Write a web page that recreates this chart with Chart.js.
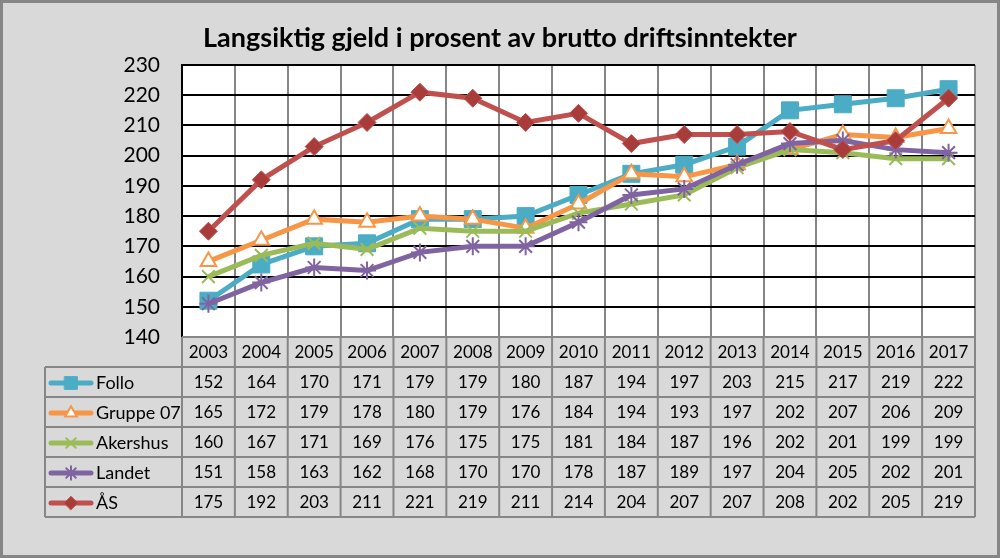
<!DOCTYPE html>
<html>
<head>
<meta charset="utf-8">
<script src="https://cdn.jsdelivr.net/npm/chart.js@4"></script>
<style>
	html, body { margin: 0; padding: 0; background: #d9d9d9; }
	canvas { display: block; }
</style>
</head>
<body>
<canvas id="gjeldChart" width="1000" height="558"></canvas>
<script>
const years = ['2003', '2004', '2005', '2006', '2007', '2008', '2009', '2010', '2011', '2012', '2013', '2014', '2015', '2016', '2017'];
const follo = [152, 164, 170, 171, 179, 179, 180, 187, 194, 197, 203, 215, 217, 219, 222];
const gruppe07 = [165, 172, 179, 178, 180, 179, 176, 184, 194, 193, 197, 202, 207, 206, 209];
const akershus = [160, 167, 171, 169, 176, 175, 175, 181, 184, 187, 196, 202, 201, 199, 199];
const landet = [151, 158, 163, 162, 168, 170, 170, 178, 187, 189, 197, 204, 205, 202, 201];
const aas = [175, 192, 203, 211, 221, 219, 211, 214, 204, 207, 207, 208, 202, 205, 219];
const yTicks = [140, 150, 160, 170, 180, 190, 200, 210, 220, 230];

const FONT = 'Lato, "Open Sans", sans-serif';
const titleText = 'Langsiktig gjeld i prosent av brutto driftsinntekter';

const series = [
	{ label: 'Follo', data: follo, color: '#4bacc6', fill: '#4bacc6', style: 'rect', radius: 12, bw: 1, order: 5 },
	{ label: 'Gruppe 07', data: gruppe07, color: '#f79646', fill: '#ffffff', style: 'triangle', radius: 9, bw: 2, order: 4 },
	{ label: 'Akershus', data: akershus, color: '#9bbb59', fill: '#9bbb59', style: 'crossRot', radius: 9, bw: 2, order: 3 },
	{ label: 'Landet', data: landet, color: '#8064a2', fill: '#8064a2', style: 'star', radius: 9, bw: 2, order: 2 },
	{ label: 'ÅS', data: aas, color: '#c0504d', fill: '#a83c3a', style: 'rectRot', radius: 9, bw: 1, order: 1 },
];

const frameAndTable = {
	id: 'frameAndTable',
	beforeDraw(chart) {
		const { ctx, chartArea: a } = chart;
		ctx.save();
		ctx.fillStyle = '#d9d9d9';
		ctx.fillRect(0, 0, chart.width, chart.height);
		ctx.strokeStyle = '#868686';
		ctx.lineWidth = 3;
		ctx.strokeRect(1.5, 1.5, chart.width - 3, chart.height - 3);
		ctx.fillStyle = '#ffffff';
		ctx.fillRect(a.left, a.top, a.right - a.left, a.bottom - a.top);
		// title
		ctx.fillStyle = '#000000';
		ctx.font = 'bold 27px ' + FONT;
		ctx.textAlign = 'center';
		ctx.textBaseline = 'middle';
		ctx.fillText(titleText, 500, 38);
		ctx.restore();
	},
	afterDraw(chart) {
		const { ctx, chartArea: a } = chart;
		const n = years.length;
		const colW = (a.right - a.left) / n;
		const rowH = 30;
		const top = a.bottom;
		const tableLeft = 45;
		const xScale = chart.scales.x;
		ctx.save();
		ctx.strokeStyle = '#868686';
		ctx.lineWidth = 2;
		ctx.beginPath();
		for (let i = 0; i <= n; i++) {
			const x = a.left + i * colW;
			ctx.moveTo(x, top);
			ctx.lineTo(x, top + rowH * (series.length + 1));
		}
		ctx.moveTo(a.left, top);
		ctx.lineTo(a.right, top);
		for (let k = 1; k <= series.length + 1; k++) {
			ctx.moveTo(tableLeft, top + rowH * k);
			ctx.lineTo(a.right, top + rowH * k);
		}
		ctx.moveTo(tableLeft, top + rowH);
		ctx.lineTo(tableLeft, top + rowH * (series.length + 1));
		ctx.stroke();

		ctx.fillStyle = '#000000';
		ctx.font = '17px ' + FONT;
		ctx.textAlign = 'center';
		ctx.textBaseline = 'middle';
		years.forEach((y, i) => {
			ctx.fillText(y, xScale.getPixelForValue(i), top + rowH / 2 + 1);
		});
		series.forEach((s, r) => {
			const cy = top + rowH * (r + 1) + rowH / 2 + 1;
			s.data.forEach((v, i) => {
				ctx.fillStyle = '#000000';
				ctx.fillText(String(v), xScale.getPixelForValue(i), cy);
			});
			// legend key
			ctx.strokeStyle = s.color;
			ctx.lineWidth = 5;
			ctx.lineCap = 'round';
			ctx.beginPath();
			ctx.moveTo(tableLeft + 6, cy);
			ctx.lineTo(tableLeft + 46, cy);
			ctx.stroke();
			ctx.fillStyle = s.fill;
			ctx.lineWidth = s.bw;
			Chart.helpers.drawPoint(ctx, { pointStyle: s.style, radius: s.radius * 0.75, rotation: 0, borderWidth: s.bw }, tableLeft + 26, cy);
			ctx.fillStyle = '#000000';
			ctx.textAlign = 'left';
			ctx.font = '18px ' + FONT;
			ctx.fillText(s.label, tableLeft + 51, cy);
			ctx.font = '17px ' + FONT;
			ctx.textAlign = 'center';
		});
		ctx.restore();
	},
};

new Chart(document.getElementById('gjeldChart'), {
	type: 'line',
	data: {
		labels: years,
		datasets: series.map((s) => ({
			label: s.label,
			data: s.data,
			order: s.order,
			borderColor: s.color,
			borderWidth: 5,
			pointStyle: s.style,
			pointRadius: s.radius,
			pointHoverRadius: s.radius,
			pointBackgroundColor: s.fill,
			pointBorderColor: s.color,
			pointBorderWidth: s.bw,
			tension: 0,
		})),
	},
	options: {
		responsive: false,
		animation: false,
		events: [],
		layout: { padding: { left: 0, top: 65, right: 25, bottom: 221 } },
		plugins: {
			legend: { display: false },
			title: { display: false },
			tooltip: { enabled: false },
		},
		scales: {
			x: {
				offset: true,
				grid: { offset: true, color: '#868686', lineWidth: 2, drawTicks: false },
				border: { display: false },
				ticks: { display: false },
			},
			y: {
				min: 140,
				max: 230,
				afterFit: (s) => { s.width = 182; },
				afterBuildTicks: (s) => { s.ticks = yTicks.map((v) => ({ value: v })); },
				grid: { color: '#000000', lineWidth: 2, drawTicks: false },
				border: { color: '#000000', width: 2 },
				ticks: {
					padding: 22,
					color: '#000000',
					font: { family: FONT, size: 21 },
				},
			},
		},
	},
	plugins: [frameAndTable],
});
</script>
</body>
</html>
